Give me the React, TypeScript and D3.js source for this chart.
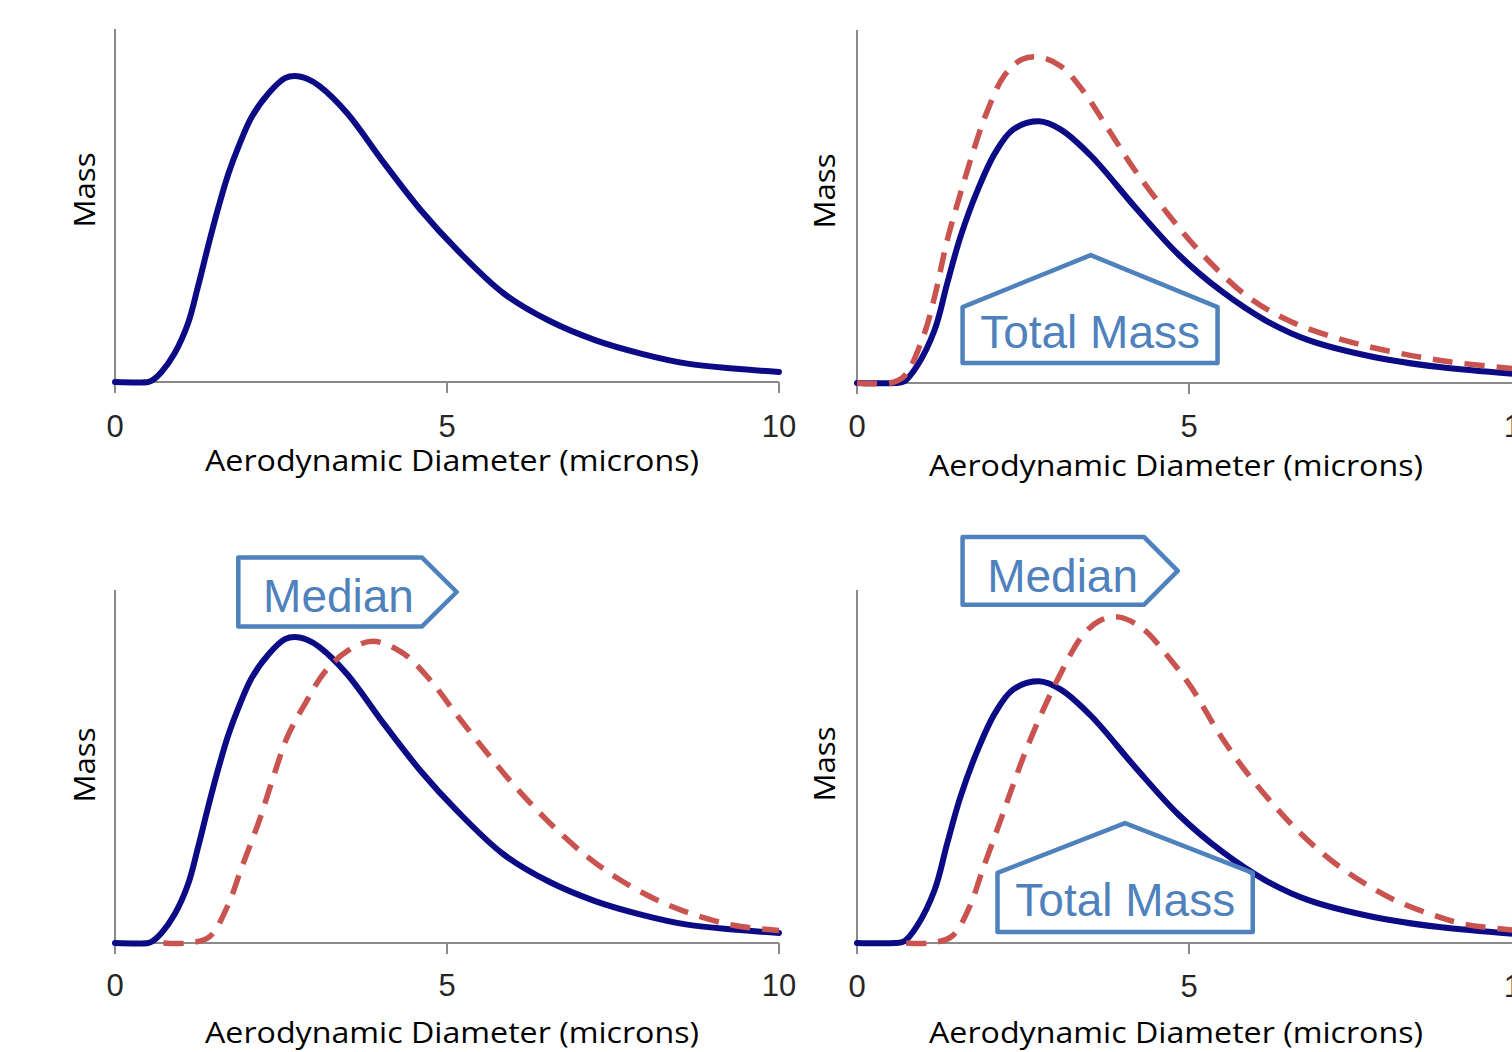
import * as d3 from "d3";

// x axis (aerodynamic diameter, microns)
const xTicks = [0, 5, 10];
const tickLabels = ["0", "5", "10"];

// original distribution (solid line, left panels)
const baseDiam = [0, 0.5, 0.55, 0.7, 0.9, 1.1, 1.25, 1.4, 1.56, 1.71, 1.86, 2.06, 2.31, 2.56, 2.71, 2.9, 3.08, 3.49, 4.05, 4.6, 5.16, 5.85, 6.54, 7.23, 7.92, 8.62, 9.31, 10];
const baseMass = [0, 0, 0.004, 0.033, 0.095, 0.192, 0.312, 0.442, 0.573, 0.682, 0.769, 0.867, 0.943, 0.993, 1.0, 0.99, 0.967, 0.88, 0.716, 0.563, 0.43, 0.29, 0.2, 0.137, 0.093, 0.06, 0.044, 0.033];

// solid line, right panels
const lowDiam = [0, 0.55, 0.71, 0.9, 1.17, 1.36, 1.56, 1.82, 2.08, 2.35, 2.74, 3.07, 3.53, 4.18, 4.84, 5.49, 6.15, 6.8, 7.78, 8.77, 10];
const lowMass = [0, 0, 0.005, 0.054, 0.174, 0.327, 0.479, 0.632, 0.752, 0.828, 0.855, 0.828, 0.741, 0.577, 0.42, 0.3, 0.205, 0.14, 0.085, 0.052, 0.028];

// dashed, more total mass (top right)
const totalDiam = [0, 0.5, 0.71, 1.0, 1.17, 1.36, 1.56, 1.76, 1.95, 2.21, 2.48, 2.74, 3.07, 3.39, 3.79, 4.18, 4.71, 5.23, 5.88, 6.54, 7.33, 8.11, 8.9, 10];
const totalMass = [0, 0, 0.022, 0.153, 0.283, 0.468, 0.621, 0.763, 0.882, 1.002, 1.057, 1.065, 1.035, 0.959, 0.828, 0.697, 0.545, 0.414, 0.283, 0.2, 0.14, 0.1, 0.07, 0.045];

// dashed, larger median (bottom left)
const medianDiam = [0.73, 1.1, 1.42, 1.7, 1.9, 2.18, 2.39, 2.6, 2.87, 3.15, 3.49, 3.88, 4.33, 4.74, 5.16, 5.64, 6.06, 6.54, 7.09, 7.58, 8.13, 8.62, 9.31, 10];
const medianMass = [0, 0, 0.02, 0.123, 0.242, 0.405, 0.546, 0.676, 0.785, 0.883, 0.953, 0.986, 0.948, 0.861, 0.742, 0.611, 0.503, 0.394, 0.286, 0.21, 0.144, 0.1, 0.058, 0.041];

// dashed, larger median and more mass (bottom right)
const bothDiam = [0.74, 1.1, 1.43, 1.69, 1.89, 2.15, 2.35, 2.54, 2.8, 3.07, 3.39, 3.66, 3.95, 4.31, 4.64, 5.03, 5.43, 5.82, 6.28, 6.67, 7.13, 7.65, 8.11, 8.64, 9.16, 10];
const bothMass = [0, 0, 0.022, 0.116, 0.238, 0.394, 0.516, 0.627, 0.76, 0.882, 1.003, 1.054, 1.065, 1.026, 0.948, 0.837, 0.693, 0.571, 0.45, 0.36, 0.272, 0.194, 0.139, 0.094, 0.061, 0.04];

const xTitle = "Aerodynamic Diameter (microns)";
const yTitle = "Mass";

const BLUE = "#0b0b86";
const RED = "#c9534f";
const NOTE = "#4f81bd";
const AXIS = "#8a8a8a";

type Pt = [number, number];
const zip = (a: number[], b: number[]): Pt[] => a.map((v, i) => [v, b[i]]);

type Note =
  | { kind: "house"; x0: number; x1: number; apex: number; bottom: number; shoulder: number; top: number; text: string; tx: number; ty: number }
  | { kind: "arrow"; x0: number; x1: number; tip: number; bottom: number; top: number; text: string; tx: number; ty: number };

type PanelDef = {
  id: string;
  x0: number;
  x10: number;
  base: number;
  tickY: number;
  titleX: number;
  titleY: number;
  massX: number;
  massY: number;
  solid: Pt[];
  dashed?: Pt[];
  notes: Note[];
};

const panels: PanelDef[] = [
  { id: "tl", x0: 115, x10: 779, base: 382, tickY: 437, titleX: 205, titleY: 471, massX: 95, massY: 190, solid: zip(baseDiam, baseMass), notes: [] },
  {
    id: "tr", x0: 857, x10: 1521, base: 383, tickY: 437, titleX: 929, titleY: 476, massX: 835, massY: 191,
    solid: zip(lowDiam, lowMass), dashed: zip(totalDiam, totalMass),
    notes: [{ kind: "house", x0: 1.59, x1: 5.43, apex: 3.52, bottom: 0.065, shoulder: 0.248, top: 0.418, text: "Total Mass", tx: 3.51, ty: 0.114 }],
  },
  {
    id: "bl", x0: 115, x10: 779, base: 943, tickY: 996, titleX: 205, titleY: 1043, massX: 95, massY: 765,
    solid: zip(baseDiam, baseMass), dashed: zip(medianDiam, medianMass),
    notes: [{ kind: "arrow", x0: 1.857, x1: 4.62, tip: 5.146, bottom: 1.034, top: 1.26, text: "Median", tx: 2.23, ty: 1.082 }],
  },
  {
    id: "br", x0: 857, x10: 1521, base: 943, tickY: 997, titleX: 929, titleY: 1043, massX: 835, massY: 764,
    solid: zip(lowDiam, lowMass), dashed: zip(bothDiam, bothMass),
    notes: [
      { kind: "arrow", x0: 1.59, x1: 4.32, tip: 4.83, bottom: 1.105, top: 1.327, text: "Median", tx: 1.96, ty: 1.147 },
      { kind: "house", x0: 2.116, x1: 5.96, apex: 4.036, bottom: 0.036, shoulder: 0.229, top: 0.392, text: "Total Mass", tx: 4.04, ty: 0.088 },
    ],
  },
];

function Panel({ p }: { p: PanelDef }) {
  const x = d3.scaleLinear().domain([0, 10]).range([p.x0, p.x10]);
  const y = d3.scaleLinear().domain([0, 1]).range([p.base, p.base - 306]);
  const line = d3
    .line<Pt>()
    .x((d) => x(d[0]))
    .y((d) => y(d[1]))
    .curve(d3.curveCatmullRom.alpha(0.5));

  return (
    <g>
      {/* axes */}
      <line x1={x(0)} x2={x(10)} y1={y(0)} y2={y(0)} stroke={AXIS} strokeWidth={2} />
      <line x1={x(0)} x2={x(0)} y1={y(1.154)} y2={y(0) + 11} stroke={AXIS} strokeWidth={2} />
      {xTicks.map((t, i) => (
        <g key={t}>
          {i > 0 && <line x1={x(t)} x2={x(t)} y1={y(0)} y2={y(0) + 11} stroke={AXIS} strokeWidth={2} />}
          <text x={x(t)} y={p.tickY} textAnchor="middle" fontFamily="'Liberation Sans', Arial, sans-serif" fontSize={31} fill="#262626">
            {tickLabels[i]}
          </text>
        </g>
      ))}
      <text x={p.titleX} y={p.titleY} fontFamily="'Open Sans', sans-serif" fontSize={29} fill="#000" textLength={494} lengthAdjust="spacingAndGlyphs">
        {xTitle}
      </text>
      <text transform={`translate(${p.massX},${p.massY}) rotate(-90)`} textAnchor="middle" fontFamily="'Open Sans', sans-serif" fontSize={30} fill="#000" textLength={75} lengthAdjust="spacingAndGlyphs">
        {yTitle}
      </text>

      {/* curves */}
      <path d={line(p.solid) || ""} fill="none" stroke={BLUE} strokeWidth={6} strokeLinejoin="round" strokeLinecap="round" />
      {p.dashed && <path d={line(p.dashed) || ""} fill="none" stroke={RED} strokeWidth={5.5} strokeDasharray="20 12" />}

      {/* annotations */}
      {p.notes.map((n, i) => {
        const pts =
          n.kind === "house"
            ? [[n.x0, n.bottom], [n.x0, n.shoulder], [n.apex, n.top], [n.x1, n.shoulder], [n.x1, n.bottom]]
            : [[n.x0, n.bottom], [n.x0, n.top], [n.x1, n.top], [n.tip, (n.top + n.bottom) / 2], [n.x1, n.bottom]];
        return (
          <g key={i}>
            <polygon points={pts.map(([a, b]) => `${x(a)},${y(b)}`).join(" ")} fill="none" stroke={NOTE} strokeWidth={4.5} strokeLinejoin="round" />
            <text x={x(n.tx)} y={y(n.ty)} textAnchor={n.kind === "house" ? "middle" : "start"} fontFamily="'Liberation Sans', Arial, sans-serif" fontSize={46} fill={NOTE}>
              {n.text}
            </text>
          </g>
        );
      })}
    </g>
  );
}

export default function App() {
  return (
    <div style={{ position: "absolute", left: 0, top: 0 }}>
      <svg width={1512} height={1052} style={{ display: "block", background: "#fff" }}>
        {panels.map((p) => (
          <Panel key={p.id} p={p} />
        ))}
      </svg>
    </div>
  );
}
